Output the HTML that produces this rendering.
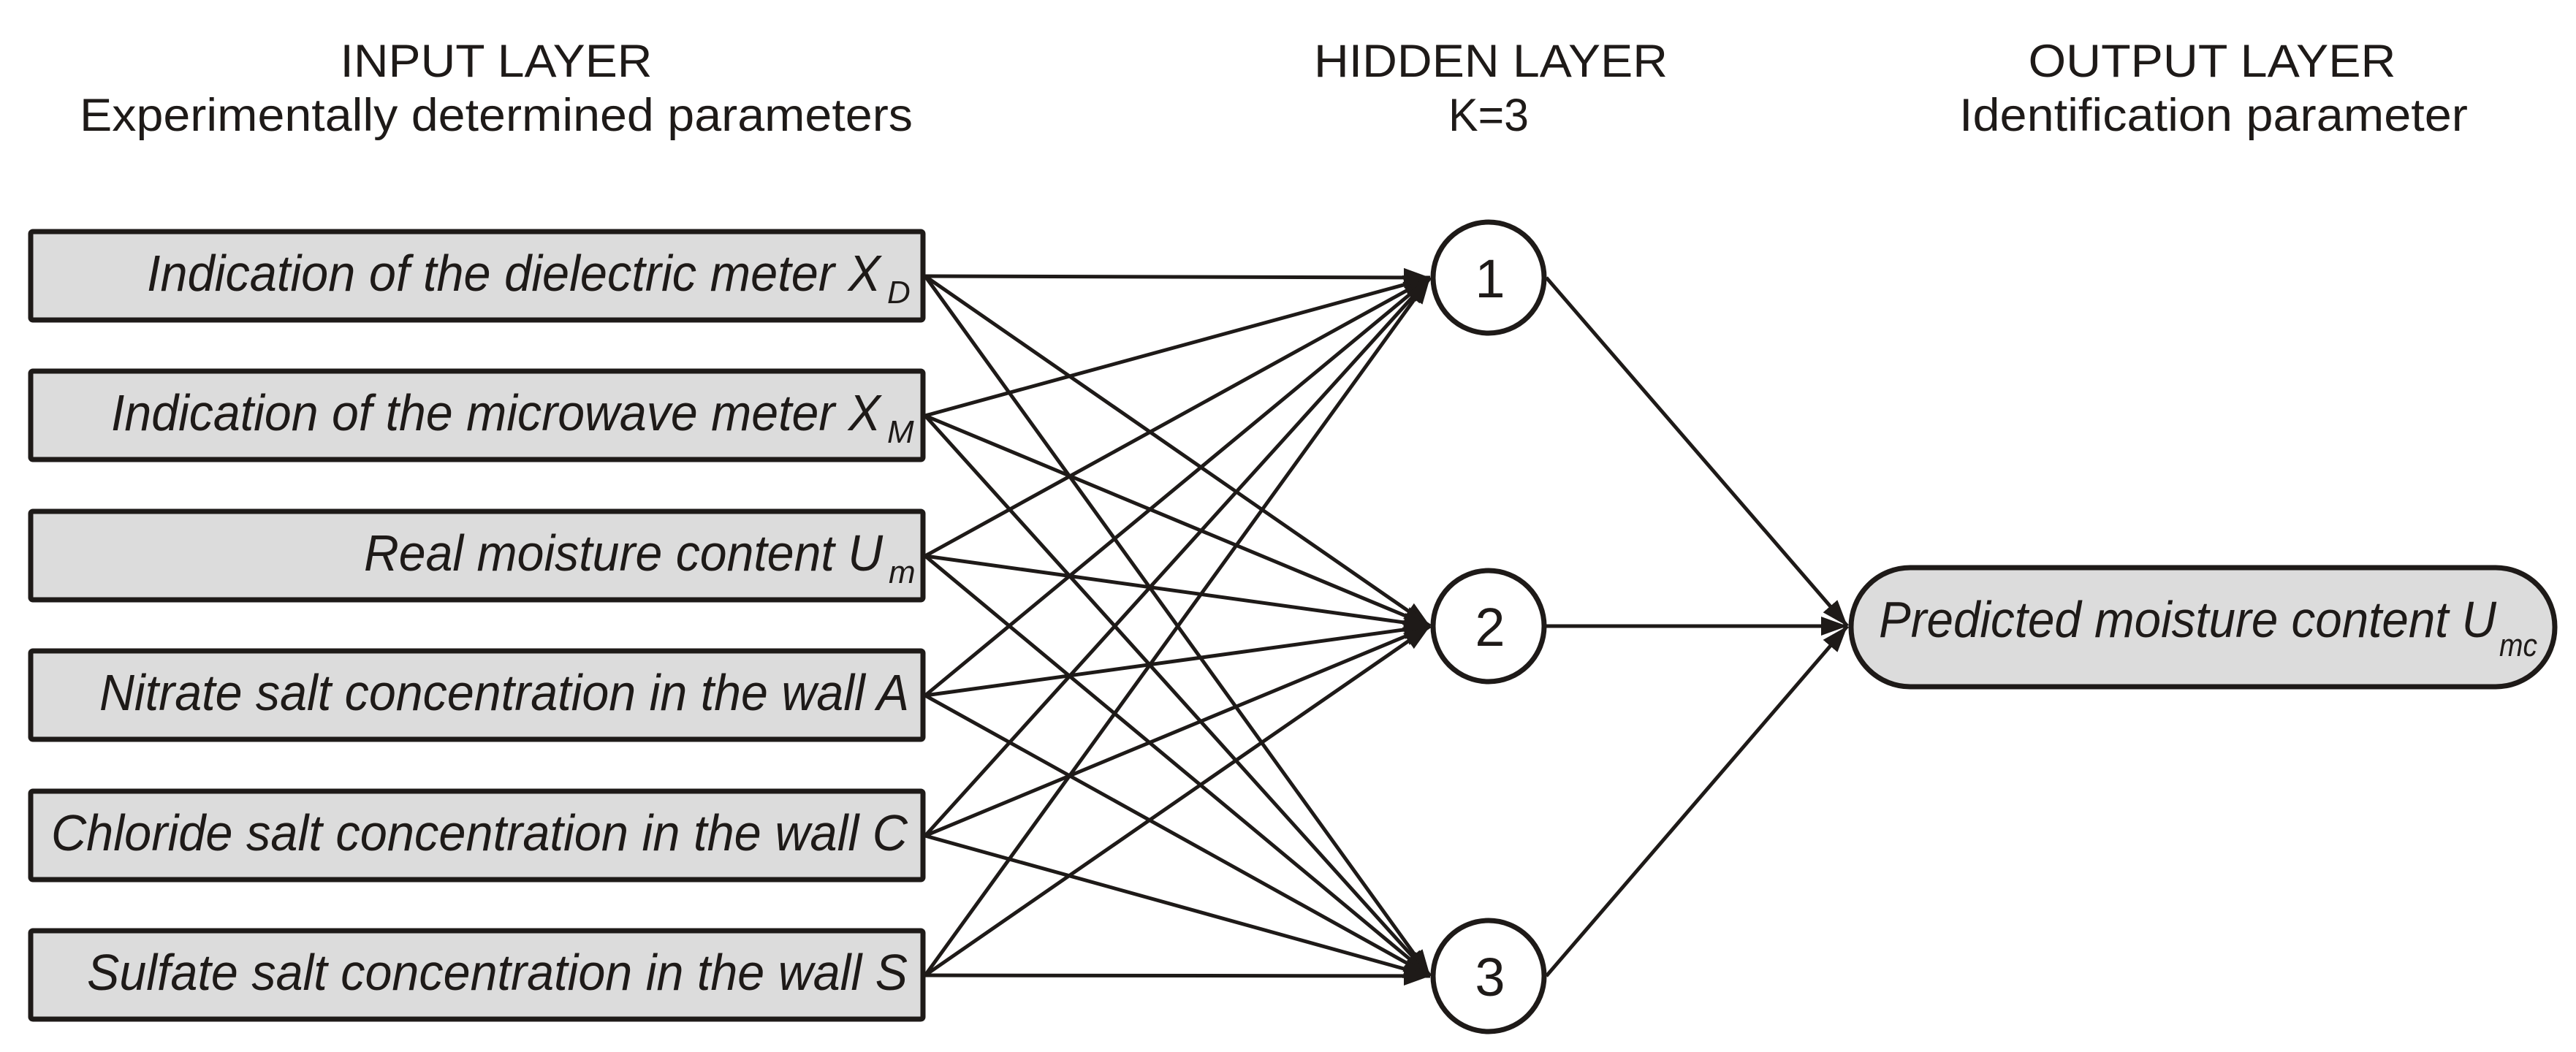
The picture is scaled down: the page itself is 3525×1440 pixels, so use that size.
<!DOCTYPE html>
<html><head><meta charset="utf-8"><style>
html,body{margin:0;padding:0;background:#fff;}
svg{display:block;}
text{font-family:"Liberation Sans",Arial,sans-serif;fill:#1e1a18;}
</style></head><body>
<svg width="3525" height="1440" viewBox="0 0 3525 1440" xmlns="http://www.w3.org/2000/svg">
<defs>
<marker id="ah" markerUnits="userSpaceOnUse" markerWidth="40" markerHeight="40" refX="36" refY="20" orient="auto">
<path d="M0,7 L36,20 L0,33 Z" fill="#1e1a18"/>
</marker>
</defs>
<g font-size="63" text-anchor="middle">
<text x="679" y="105" textLength="427" lengthAdjust="spacingAndGlyphs">INPUT LAYER</text>
<text x="679" y="179" textLength="1140" lengthAdjust="spacingAndGlyphs">Experimentally determined parameters</text>
<text x="2040" y="105" textLength="484" lengthAdjust="spacingAndGlyphs">HIDDEN LAYER</text>
<text x="2037" y="179" textLength="110" lengthAdjust="spacingAndGlyphs">K=3</text>
<text x="3027" y="105" textLength="503" lengthAdjust="spacingAndGlyphs">OUTPUT LAYER</text>
<text x="3029" y="179" textLength="696" lengthAdjust="spacingAndGlyphs">Identification parameter</text>
</g>
<g stroke="#1e1a18" stroke-width="5" fill="none" marker-end="url(#ah)">
<line x1="1266" y1="378" x2="1957" y2="380"/>
<line x1="1266" y1="378" x2="1957" y2="857"/>
<line x1="1266" y1="378" x2="1957" y2="1336"/>
<line x1="1266" y1="569" x2="1957" y2="380"/>
<line x1="1266" y1="569" x2="1957" y2="857"/>
<line x1="1266" y1="569" x2="1957" y2="1336"/>
<line x1="1266" y1="761" x2="1957" y2="380"/>
<line x1="1266" y1="761" x2="1957" y2="857"/>
<line x1="1266" y1="761" x2="1957" y2="1336"/>
<line x1="1266" y1="952" x2="1957" y2="380"/>
<line x1="1266" y1="952" x2="1957" y2="857"/>
<line x1="1266" y1="952" x2="1957" y2="1336"/>
<line x1="1266" y1="1144" x2="1957" y2="380"/>
<line x1="1266" y1="1144" x2="1957" y2="857"/>
<line x1="1266" y1="1144" x2="1957" y2="1336"/>
<line x1="1266" y1="1335" x2="1957" y2="380"/>
<line x1="1266" y1="1335" x2="1957" y2="857"/>
<line x1="1266" y1="1335" x2="1957" y2="1336"/>
<line x1="2116" y1="380" x2="2528" y2="857"/>
<line x1="2116" y1="857" x2="2528" y2="857"/>
<line x1="2116" y1="1336" x2="2528" y2="857"/>
</g>
<g fill="#dcdcdc" stroke="#1e1a18" stroke-width="7">
<rect x="42" y="317" width="1221" height="121" rx="3"/>
<rect x="42" y="508" width="1221" height="121" rx="3"/>
<rect x="42" y="700" width="1221" height="121" rx="3"/>
<rect x="42" y="891" width="1221" height="121" rx="3"/>
<rect x="42" y="1083" width="1221" height="121" rx="3"/>
<rect x="42" y="1274" width="1221" height="121" rx="3"/>
</g>
<g font-size="70" font-style="italic">
<text x="201" y="398" textLength="1004" lengthAdjust="spacingAndGlyphs">Indication of the dielectric meter X</text>
<text x="1214" y="415" font-size="44">D</text>
<text x="152" y="589" textLength="1053" lengthAdjust="spacingAndGlyphs">Indication of the microwave meter X</text>
<text x="1214" y="606" font-size="44">M</text>
<text x="498" y="781" textLength="710" lengthAdjust="spacingAndGlyphs">Real moisture content U</text>
<text x="1216" y="798" font-size="44">m</text>
<text x="136" y="972" textLength="1108" lengthAdjust="spacingAndGlyphs">Nitrate salt concentration in the wall A</text>
<text x="70" y="1164" textLength="1172" lengthAdjust="spacingAndGlyphs">Chloride salt concentration in the wall C</text>
<text x="119" y="1355" textLength="1123" lengthAdjust="spacingAndGlyphs">Sulfate salt concentration in the wall S</text>
</g>
<g fill="#fff" stroke="#1e1a18" stroke-width="7">
<circle cx="2037" cy="380" r="76"/>
<circle cx="2037" cy="857" r="76"/>
<circle cx="2037" cy="1336" r="76"/>
</g>
<g font-size="74" text-anchor="middle">
<text x="2039" y="407">1</text>
<text x="2039" y="884">2</text>
<text x="2039" y="1363">3</text>
</g>
<rect x="2533" y="777" width="963" height="163" rx="81" fill="#dcdcdc" stroke="#1e1a18" stroke-width="7"/>
<g font-size="70" font-style="italic">
<text x="2571" y="872" textLength="845" lengthAdjust="spacingAndGlyphs">Predicted moisture content U</text>
<text x="3420" y="898" font-size="44" textLength="52" lengthAdjust="spacingAndGlyphs">mc</text>
</g>
</svg>
</body></html>
